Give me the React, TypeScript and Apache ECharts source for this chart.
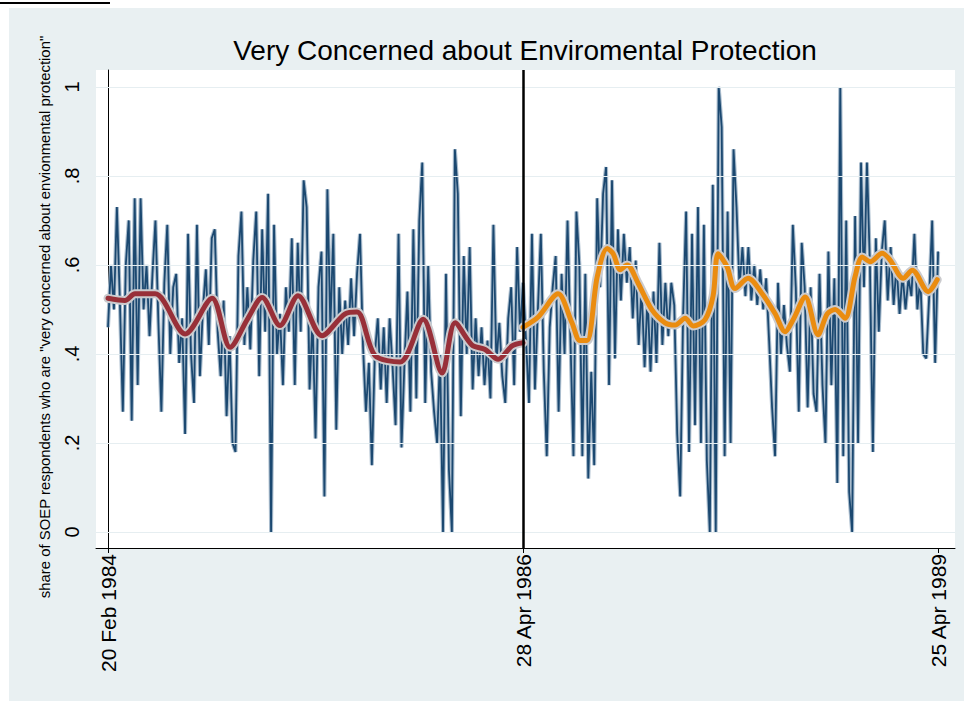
import React, { useEffect, useRef } from "react";
import * as echarts from "echarts";

// Daily share of respondents "very concerned", day index 0 = 20 Feb 1984
const share1984to1986 = [
  0.46, 0.6, 0.5, 0.73, 0.52, 0.27, 0.6, 0.7, 0.25, 0.75,
  0.33, 0.75, 0.5, 0.6, 0.44, 0.58, 0.7, 0.47, 0.27, 0.56,
  0.69, 0.4, 0.55, 0.58, 0.38, 0.48, 0.22, 0.67, 0.4, 0.29,
  0.69, 0.35, 0.5, 0.59, 0.42, 0.66, 0.68, 0.45, 0.35, 0.52,
  0.26, 0.44, 0.2, 0.18, 0.62, 0.72, 0.42,
  0.55, 0.41, 0.61, 0.72, 0.35, 0.68, 0.45, 0.76, 0.0, 0.69,
  0.4, 0.49, 0.33, 0.55, 0.45, 0.66, 0.33, 0.65, 0.45, 0.79,
  0.73, 0.32, 0.48, 0.21, 0.55, 0.63, 0.08, 0.77, 0.46, 0.67,
  0.23, 0.55, 0.4, 0.52, 0.42, 0.57, 0.44, 0.58, 0.67, 0.42,
  0.27, 0.38, 0.15, 0.4, 0.48, 0.32, 0.46,
  0.29, 0.48, 0.37, 0.24, 0.67, 0.19, 0.38, 0.54, 0.27, 0.68,
  0.3, 0.7, 0.83, 0.29, 0.6, 0.36, 0.27, 0.2, 0.4, 0.0,
  0.58, 0.14, 0.0, 0.86, 0.76, 0.26, 0.62, 0.4, 0.64, 0.32,
  0.48, 0.35, 0.46, 0.33, 0.43, 0.3, 0.69, 0.38, 0.47, 0.35,
  0.29, 0.48, 0.55, 0.33, 0.64, 0.45,
];

// Day index 140 = 28 Apr 1986 ... 280 = 25 Apr 1989
const share1986to1989 = [
  0.56, 0.43, 0.29, 0.67, 0.32, 0.5, 0.67, 0.36, 0.17, 0.46,
  0.55, 0.62, 0.27, 0.58, 0.4, 0.7, 0.43, 0.17, 0.72, 0.6,
  0.17, 0.58, 0.12, 0.36, 0.15, 0.75, 0.55, 0.76, 0.82, 0.33,
  0.79, 0.39, 0.68, 0.52, 0.67, 0.56, 0.64, 0.48, 0.61, 0.42,
  0.55, 0.37, 0.53, 0.36, 0.54, 0.38, 0.65, 0.42,
  0.56, 0.44, 0.56, 0.51, 0.22, 0.08, 0.49, 0.72, 0.18, 0.67,
  0.24, 0.73, 0.2, 0.69, 0.16, 0.0, 0.78, 0.0, 1.0, 0.91,
  0.17, 0.72, 0.2, 0.86, 0.73, 0.55, 0.64, 0.53, 0.64, 0.52,
  0.6, 0.51, 0.59, 0.5, 0.57, 0.43, 0.28, 0.17, 0.56, 0.4,
  0.51, 0.42, 0.36, 0.69, 0.55, 0.27, 0.65,
  0.55, 0.28, 0.55, 0.31, 0.27, 0.58, 0.33, 0.2, 0.63, 0.33,
  0.57, 0.11, 1.0, 0.17, 0.7, 0.09, 0.0, 0.71, 0.2, 0.83,
  0.55, 0.83, 0.6, 0.18, 0.66, 0.45, 0.63, 0.7, 0.52, 0.64,
  0.51, 0.6, 0.49, 0.58, 0.5, 0.57, 0.53, 0.67, 0.5, 0.57,
  0.4, 0.39, 0.53, 0.7, 0.38, 0.63,
];

// Local smooth before the break (day index, share)
const trendBeforeDay = [0, 5.7, 9.1, 15.9, 26, 35.1, 41.2, 47.2, 52, 58, 64.1, 72.2, 80, 84, 90, 98.5, 106.3, 112.7, 117.1, 122.8, 127.2, 131.6, 136.3, 140];
const trendBeforeShare = [0.525, 0.52, 0.535, 0.535, 0.445, 0.525, 0.415, 0.48, 0.527, 0.464, 0.531, 0.441, 0.49, 0.494, 0.397, 0.382, 0.478, 0.357, 0.47, 0.42, 0.41, 0.388, 0.418, 0.425];

// Local smooth after the break
const trendAfterDay = [140, 145.1, 151.8, 156.5, 159.2, 161.6, 165, 168.4, 170.4, 172.8, 175.1, 178.8, 183.5, 187.9, 191.3, 194.7, 197.4, 201.4, 204.1, 205.8, 208.8, 211.5, 215.9, 220.6, 225, 228.4, 231.1, 235.2, 239.5, 242.6, 245.3, 248.6, 252, 254.4, 257.1, 261.1, 263.8, 268.2, 271.3, 276.7, 279.7];
const trendAfterShare = [0.46, 0.483, 0.535, 0.47, 0.43, 0.43, 0.573, 0.637, 0.625, 0.589, 0.6, 0.559, 0.499, 0.47, 0.465, 0.48, 0.463, 0.477, 0.53, 0.625, 0.596, 0.547, 0.57, 0.536, 0.491, 0.45, 0.477, 0.528, 0.443, 0.49, 0.5, 0.48, 0.574, 0.618, 0.607, 0.626, 0.611, 0.57, 0.588, 0.54, 0.567];

const xTickDays = [0, 140, 280];
const xTickLabels = ["20 Feb 1984", "28 Apr 1986", "25 Apr 1989"];
const yTickValues = [0, 0.2, 0.4, 0.6, 0.8, 1];
const breakDay = 140;

const titleText = "Very Concerned about Enviromental Protection";
const yTitleText = 'share of SOEP respondents who are "very concerned about envionmental protection"';

const FONT = '"Liberation Sans", Arial, Helvetica, sans-serif';

export default function App() {
  const ref = useRef<HTMLDivElement>(null);

  useEffect(() => {
    if (!ref.current) return;
    const chart = echarts.init(ref.current, undefined, { renderer: "svg" });
    const daily = [...share1984to1986, ...share1986to1989].map((v, i) => [i, v]);
    const before = trendBeforeDay.map((d, i) => [d, trendBeforeShare[i]]);
    const after = trendAfterDay.map((d, i) => [d, trendAfterShare[i]]);
    const fmtY = (v: number) => (v === 0 ? "0" : v === 1 ? "1" : String(Math.round(v * 10) / 10).replace("0.", "."));

    chart.setOption({
      animation: false,
      backgroundColor: "#e9f0f2",
      grid: {
        left: 87,
        right: 9,
        top: 62,
        bottom: 153,
        show: true,
        backgroundColor: "#ffffff",
        borderWidth: 0,
      },
      xAxis: {
        type: "value",
        min: -4.05,
        max: 285.7,
        axisLine: { show: true, onZero: false, lineStyle: { color: "#000", width: 1 } },
        axisTick: { show: true, customValues: xTickDays, length: 5, lineStyle: { color: "#000" } },
        axisLabel: {
          show: true,
          customValues: xTickDays,
          rotate: 90,
          margin: 6,
          fontSize: 21,
          fontFamily: FONT,
          color: "#000",
          formatter: (v: number) => {
            const k = xTickDays.indexOf(Math.round(v));
            return k >= 0 ? xTickLabels[k] : "";
          },
        },
        splitLine: { show: false },
      },
      yAxis: {
        type: "value",
        min: -0.036,
        max: 1.038,
        axisLine: { show: true, lineStyle: { color: "#000", width: 1 } },
        axisTick: { show: true, customValues: yTickValues, length: 6, lineStyle: { color: "#000" } },
        axisLabel: {
          show: true,
          customValues: yTickValues,
          rotate: 90,
          margin: 14,
          fontSize: 20,
          fontFamily: FONT,
          color: "#000",
          formatter: (v: number) => fmtY(v),
        },
        splitLine: { show: false },
      },
      graphic: [
        {
          type: "text",
          x: 516,
          y: 42,
          style: {
            text: titleText,
            fill: "#000",
            fontSize: 28,
            fontFamily: FONT,
            textAlign: "center",
            textVerticalAlign: "middle",
            align: "center",
            verticalAlign: "middle",
          },
        },
        {
          type: "text",
          x: 36,
          y: 309,
          rotation: Math.PI / 2,
          style: {
            text: yTitleText,
            fill: "#000",
            fontSize: 14.9,
            fontFamily: FONT,
            textAlign: "center",
            textVerticalAlign: "middle",
            align: "center",
            verticalAlign: "middle",
          },
        },
      ],
      series: [
        {
          type: "line",
          data: [],
          z: 1,
          silent: true,
          markLine: {
            silent: true,
            symbol: ["none", "none"],
            label: { show: false },
            lineStyle: { color: "#e6eef1", width: 1, type: "solid" },
            data: yTickValues.map((v) => ({ yAxis: v })),
          },
        },
        {
          type: "line",
          data: daily,
          z: 2,
          showSymbol: false,
          silent: true,
          lineStyle: { color: "#a9bccd", width: 4 },
        },
        {
          type: "line",
          data: daily,
          z: 2,
          showSymbol: false,
          silent: true,
          lineStyle: { color: "#1b4870", width: 1.8 },
        },
        {
          type: "line",
          data: before,
          z: 3,
          smooth: 0.3,
          showSymbol: false,
          silent: true,
          lineStyle: { color: "#cbcbce", width: 9, cap: "round", join: "round" },
        },
        {
          type: "line",
          data: after,
          z: 3,
          smooth: 0.3,
          showSymbol: false,
          silent: true,
          lineStyle: { color: "#cbcbce", width: 9, cap: "round", join: "round" },
        },
        {
          type: "line",
          data: before,
          z: 4,
          smooth: 0.3,
          showSymbol: false,
          silent: true,
          lineStyle: { color: "#983039", width: 5, cap: "round", join: "round" },
        },
        {
          type: "line",
          data: after,
          z: 4,
          smooth: 0.3,
          showSymbol: false,
          silent: true,
          lineStyle: { color: "#ea8c10", width: 5, cap: "round", join: "round" },
          markLine: {
            silent: true,
            symbol: ["none", "none"],
            label: { show: false },
            lineStyle: { color: "#000", width: 2.5, type: "solid" },
            data: [{ xAxis: breakDay }],
          },
        },
      ],
    });
    return () => chart.dispose();
  }, []);

  return (
    <div style={{ position: "fixed", left: 0, top: 0, width: 971, height: 701, background: "#fff", overflow: "hidden" }}>
      <div style={{ position: "absolute", left: 0, top: 2, width: 110, height: 2, background: "#000" }} />
      <div ref={ref} style={{ position: "absolute", left: 9, top: 8, width: 955, height: 693 }} />
    </div>
  );
}
